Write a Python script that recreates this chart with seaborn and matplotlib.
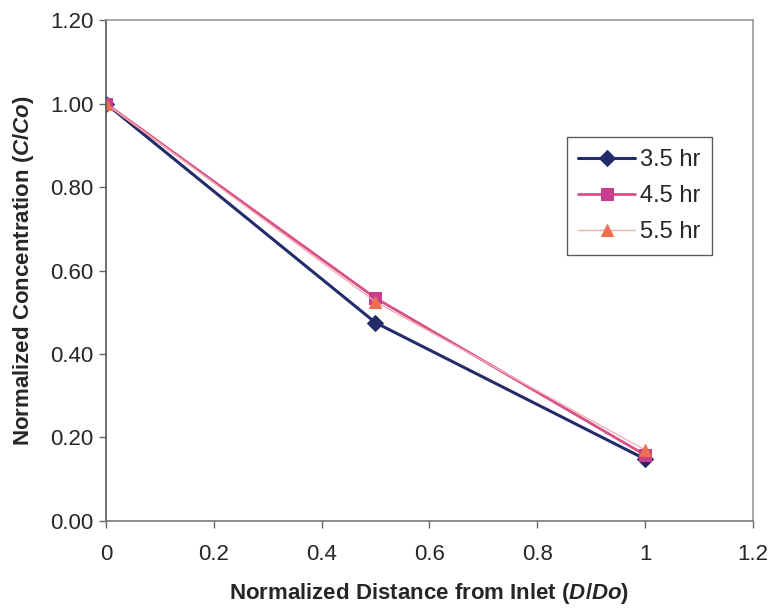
import pandas as pd
import matplotlib.pyplot as plt
import seaborn as sns

distance = [0, 0.5, 1]
conc_35 = [1.00, 0.475, 0.148]
conc_45 = [1.00, 0.534, 0.158]
conc_55 = [1.00, 0.525, 0.170]
series_labels = ["3.5 hr", "4.5 hr", "5.5 hr"]
x_ticks = [0, 0.2, 0.4, 0.6, 0.8, 1, 1.2]
x_ticklabels = ["0", "0.2", "0.4", "0.6", "0.8", "1", "1.2"]
y_ticks = [0.0, 0.2, 0.4, 0.6, 0.8, 1.0, 1.2]

sns.set_style("white")
plt.rcParams["font.family"] = ["Liberation Sans", "DejaVu Sans"]
plt.rcParams["mathtext.fontset"] = "custom"
plt.rcParams["mathtext.it"] = "Liberation Sans:italic:bold"
plt.rcParams["mathtext.rm"] = "Liberation Sans:bold"

fig = plt.figure(figsize=(7.73, 6.12), dpi=100)
ax = fig.add_axes([0.137, 0.149, 0.837, 0.818])

styles = [
    dict(color="#232c6b", marker="D", markersize=8, linewidth=2.2, mfc="#232c6b", mec="#232c6b"),
    dict(color="#d8508a", marker="s", markersize=9, linewidth=2.0, mfc="#c93d8f", mec="#c93d8f"),
    dict(color="#f2b0b0", marker="^", markersize=8, linewidth=1.0, mfc="#ee7050", mec="#ee7050"),
]

for vals, label, st in zip([conc_35, conc_45, conc_55], series_labels, styles):
    df = pd.DataFrame({"x": distance, "y": vals})
    sns.lineplot(data=df, x="x", y="y", ax=ax, label=label, color=st["color"],
                 linewidth=st["linewidth"], marker=st["marker"], markersize=st["markersize"],
                 markerfacecolor=st["mfc"], markeredgecolor=st["mec"])

ax.set_xlim(0, 1.2)
ax.set_ylim(0, 1.2)
ax.set_xticks(x_ticks)
ax.set_xticklabels(x_ticklabels, fontsize=16)
ax.set_yticks(y_ticks)
ax.set_yticklabels([f"{v:.2f}" for v in y_ticks], fontsize=16)
ax.tick_params(axis="both", direction="out", length=5, width=1, color="#666666", pad=4,
               bottom=True, left=True)
ax.tick_params(axis="x", pad=12)

for side in ["top", "right", "bottom", "left"]:
    ax.spines[side].set_visible(True)
    ax.spines[side].set_color("#9a9a9a")
    ax.spines[side].set_linewidth(1.2)
ax.spines["left"].set_color("#555555")
ax.spines["bottom"].set_color("#777777")

ax.set_xlabel("Normalized Distance from Inlet ($\\it{D/Do}$)", fontsize=16,
              fontweight="bold", labelpad=11)
ax.set_ylabel("Normalized Concentration ($\\it{C/Co}$)", fontsize=16,
              fontweight="bold", labelpad=10)

leg = ax.legend(loc="upper right", bbox_to_anchor=(712 / 773, 1 - 137 / 612),
                bbox_transform=fig.transFigure, fontsize=17, frameon=True,
                fancybox=False, edgecolor="#333333", borderpad=0.5,
                labelspacing=0.6, handlelength=2.4, handletextpad=0.2,
                borderaxespad=0)
leg.get_frame().set_linewidth(1.0)

fig.savefig("out.png", dpi=100)
